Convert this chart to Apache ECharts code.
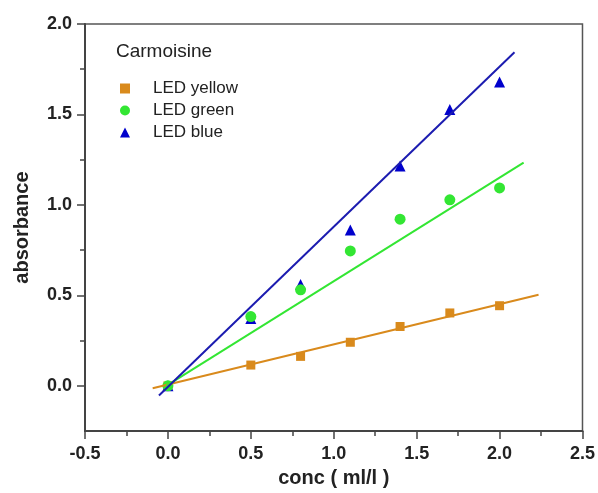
<!DOCTYPE html>
<html>
<head>
<meta charset="utf-8">
<script src="https://cdn.jsdelivr.net/npm/echarts@6/dist/echarts.min.js"></script>
<style>
  html, body { margin: 0; padding: 0; background: #fff; }
  #main { width: 598px; height: 493px; }
</style>
</head>
<body>
<div id="main"></div>
<script>
// data
const conc = [0, 0.5, 0.8, 1.1, 1.4, 1.7, 2.0];
const ledYellow = [0.0, 0.115, 0.163, 0.241, 0.328, 0.403, 0.443];
const ledGreen = [0.0, 0.383, 0.531, 0.746, 0.921, 1.028, 1.094];
const ledBlue = [0.0, 0.372, 0.56, 0.862, 1.215, 1.528, 1.68];

// fitted lines: [start, end] points
const fitYellow = [[-0.092, -0.013], [2.235, 0.504]];
const fitGreen = [[-0.01, 0.0], [2.145, 1.234]];
const fitBlue = [[-0.054, -0.053], [2.09, 1.844]];

const yMajor = [0, 0.5, 1.0, 1.5, 2.0];
const yMinor = [0.25, 0.75, 1.25, 1.75];

const colYellow = '#d98a1c';
const colGreen = '#33e633';
const colBlue = '#0000cc';
const colBlueLine = '#1c1cb0';

const pts = (ys) => conc.map((x, i) => [x, ys[i]]);

const font = 'Liberation Sans, Arial, sans-serif';

var myChart = echarts.init(document.getElementById('main'));

const option = {
    animation: false,
    title: {
        text: 'Carmoisine',
        left: 111,
        top: 37,
        textStyle: { fontFamily: font, fontWeight: 'normal', fontSize: 19, color: '#222' }
    },
    legend: {
        orient: 'vertical',
        left: 115,
        top: 75,
        itemWidth: 10,
        itemHeight: 10,
        itemGap: 5,
        data: [
            { name: 'LED yellow', icon: 'rect' },
            { name: 'LED green', icon: 'circle' },
            { name: 'LED blue', icon: 'triangle' }
        ],
        textStyle: { fontFamily: font, fontSize: 17, color: '#222', padding: [0, 0, 0, 18] }
    },
    grid: {
        left: 85, right: 15, top: 24, bottom: 61,
        show: true,
        borderColor: '#555',
        borderWidth: 1.5
    },
    xAxis: {
        type: 'value',
        min: -0.5,
        max: 2.5,
        interval: 0.5,
        name: 'conc ( ml/l )',
        nameLocation: 'middle',
        nameGap: 36,
        nameTextStyle: { fontFamily: font, fontWeight: 'bold', fontSize: 20, color: '#222' },
        axisLine: { show: true, onZero: false, lineStyle: { color: '#444', width: 2 } },
        axisTick: { show: true, length: 8, lineStyle: { color: '#444', width: 1.5 } },
        minorTick: { show: true, splitNumber: 2, length: 5, lineStyle: { color: '#444', width: 1.5 } },
        axisLabel: {
            margin: 14,
            fontFamily: font, fontWeight: 'bold', fontSize: 18, color: '#222',
            formatter: v => v.toFixed(1)
        },
        splitLine: { show: false }
    },
    yAxis: [{
        type: 'value',
        position: 'left',
        min: -0.25,
        max: 2.0,
        name: 'absorbance',
        nameLocation: 'middle',
        nameGap: 53,
        nameTextStyle: { fontFamily: font, fontWeight: 'bold', fontSize: 20, color: '#222' },
        axisLine: { show: true, onZero: false, lineStyle: { color: '#444', width: 2 } },
        axisTick: { show: true, length: 8, customValues: yMajor, lineStyle: { color: '#444', width: 1.5 } },
        axisLabel: {
            margin: 13,
            customValues: yMajor,
            fontFamily: font, fontWeight: 'bold', fontSize: 18, color: '#222',
            formatter: v => v.toFixed(1)
        },
        splitLine: { show: false }
    }, {
        // minor ticks only
        type: 'value',
        position: 'left',
        min: -0.25,
        max: 2.0,
        axisLine: { show: false, onZero: false },
        axisTick: { show: true, length: 5, customValues: yMinor, lineStyle: { color: '#444', width: 1.5 } },
        axisLabel: { show: false },
        splitLine: { show: false }
    }],
    series: [
        { type: 'line', data: fitYellow, showSymbol: false, silent: true, lineStyle: { color: colYellow, width: 2 } },
        { type: 'line', data: fitGreen, showSymbol: false, silent: true, lineStyle: { color: colGreen, width: 2 } },
        { type: 'line', data: fitBlue, showSymbol: false, silent: true, lineStyle: { color: colBlueLine, width: 2 } },
        { name: 'LED yellow', type: 'scatter', data: pts(ledYellow), symbol: 'rect', symbolSize: 9, itemStyle: { color: colYellow, opacity: 1 } },
        { name: 'LED blue', type: 'scatter', data: pts(ledBlue), symbol: 'triangle', symbolSize: 11, itemStyle: { color: colBlue, opacity: 1 } },
        { name: 'LED green', type: 'scatter', data: pts(ledGreen), symbol: 'circle', symbolSize: 11, itemStyle: { color: colGreen, opacity: 1 } }
    ]
};

myChart.setOption(option);
</script>
</body>
</html>
